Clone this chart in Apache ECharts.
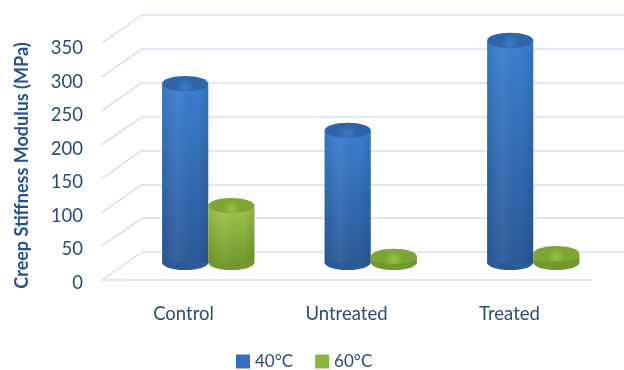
<!DOCTYPE html>
<html>
<head>
<meta charset="utf-8">
<script src="https://cdn.jsdelivr.net/npm/echarts@6/dist/echarts.min.js"></script>
<style>
html,body{margin:0;padding:0;background:#fff;}
#chart{width:624px;height:370px;}
</style>
</head>
<body>
<div id="chart"></div>
<script>
// ---- data ----
var categories = ['Control', 'Untreated', 'Treated'];
var seriesNames = ['40°C', '60°C'];
var values40 = [264, 195, 328];
var values60 = [84, 9, 13];
var yTicks = [0, 50, 100, 150, 200, 250, 300, 350];
var yMin = 0, yMax = 350, yInterval = 50;
var yTitle = 'Creep Stiffness Modulus (MPa)';

var FONT = 'Lato, "Open Sans", sans-serif';
var gridColor = '#d3e0f1';
var labelColor = '#2d4a78';

var chart = echarts.init(document.getElementById('chart'), null, {renderer: 'canvas'});

function cylinder(side, pal) {
  return function (params, api) {
    var cat = api.value(0), v = api.value(1);
    var base = api.coord([cat, 0]);
    var top = api.coord([cat, v]);
    var band = api.size([1, 0])[0];
    var w = band * 0.284;
    var rx = w / 2, ry = w * 0.165;
    var cx = base[0] + side * rx;
    var bodyGrad = new echarts.graphic.LinearGradient(0, 0, 0, 1, [
      {offset: 0, color: pal.top}, {offset: 1, color: pal.bottom}
    ]);
    var sideShade = new echarts.graphic.LinearGradient(0, 0, 1, 0, [
      {offset: 0, color: 'rgba(0,0,0,0.08)'},
      {offset: 0.35, color: 'rgba(255,255,255,0.05)'},
      {offset: 0.75, color: 'rgba(0,0,0,0.0)'},
      {offset: 1, color: 'rgba(0,0,0,0.10)'}
    ]);
    var capGrad = new echarts.graphic.RadialGradient(0.5, 0.7, 0.6, [
      {offset: 0, color: pal.capIn}, {offset: 1, color: pal.capOut}
    ]);
    return {
      type: 'group',
      children: [
        {type: 'ellipse', shape: {cx: cx, cy: base[1], rx: rx, ry: ry}, style: {fill: pal.bottom}},
        {type: 'rect', shape: {x: cx - rx, y: top[1], width: w, height: base[1] - top[1]}, style: {fill: bodyGrad}},
        {type: 'rect', shape: {x: cx - rx, y: top[1], width: w, height: base[1] - top[1]}, style: {fill: sideShade}},
        {type: 'ellipse', shape: {cx: cx, cy: top[1], rx: rx, ry: ry}, style: {fill: capGrad}}
      ]
    };
  };
}

var bluePal = {top: '#3b7fd0', bottom: '#2b5a98', capIn: '#3d7cc9', capOut: '#2e65aa'};
var greenPal = {top: '#9fc94b', bottom: '#73992e', capIn: '#97c343', capOut: '#7ca535'};

var option = {
  backgroundColor: '#ffffff',
  animation: false,
  textStyle: {fontFamily: FONT},
  grid: [
    {left: 142, right: 0, top: 15, bottom: 118},        // back wall
    {left: 102, right: 33, top: 43, bottom: 90},        // front floor edge + category labels
    {left: 127, right: 9.5, top: 25.5, bottom: 107.5},  // bars
    {left: 102, right: 33, top: 48, bottom: 87}         // value labels
  ],
  legend: {
    left: 236, top: 353, padding: 0,
    itemWidth: 14, itemHeight: 14, itemGap: 22,
    icon: 'rect',
    textStyle: {fontFamily: FONT, fontSize: 17, lineHeight: 14, color: labelColor},
    data: seriesNames
  },
  xAxis: [
    {gridIndex: 0, type: 'value', min: 0, max: 1, show: false},
    {gridIndex: 1, type: 'category', data: categories,
      axisLine: {show: true, lineStyle: {color: gridColor, width: 1.5}},
      axisTick: {show: false},
      axisLabel: {fontFamily: FONT, fontSize: 18.5, color: labelColor, margin: 25}},
    {gridIndex: 2, type: 'category', data: categories, show: false},
    {gridIndex: 3, type: 'category', data: categories, show: false}
  ],
  yAxis: [
    {gridIndex: 0, type: 'value', min: yMin, max: yMax, interval: yInterval,
      axisLine: {show: false}, axisTick: {show: false}, axisLabel: {show: false},
      splitLine: {show: true, lineStyle: {color: gridColor, width: 1.5}}},
    {gridIndex: 1, type: 'value', min: yMin, max: yMax, show: false},
    {gridIndex: 2, type: 'value', min: yMin, max: yMax, show: false},
    {gridIndex: 3, type: 'value', min: yMin, max: yMax, interval: yInterval,
      axisLine: {show: false}, axisTick: {show: false}, splitLine: {show: false},
      axisLabel: {fontFamily: FONT, fontSize: 18.5, color: labelColor, margin: 19},
      name: yTitle, nameLocation: 'middle', nameGap: 71,
      nameTextStyle: {fontFamily: FONT, fontSize: 18, fontWeight: 'bold', color: '#24528f'}}
  ],
  series: [
    {
      type: 'custom', name: 'walls', xAxisIndex: 0, yAxisIndex: 0, silent: true, clip: false, z: 1,
      data: yTicks.map(function (v) { return [0, v]; }),
      renderItem: function (params, api) {
        var p = api.coord([0, api.value(1)]);
        return {type: 'line', shape: {x1: p[0], y1: p[1], x2: p[0] - 40, y2: p[1] + 28},
          style: {stroke: gridColor, lineWidth: 1.5}};
      }
    },
    {
      type: 'custom', name: seriesNames[0], xAxisIndex: 2, yAxisIndex: 2, clip: false, z: 3,
      itemStyle: {color: '#3570c0'},
      data: values40.map(function (v, i) { return [i, v]; }),
      renderItem: cylinder(-1, bluePal)
    },
    {
      type: 'custom', name: seriesNames[1], xAxisIndex: 2, yAxisIndex: 2, clip: false, z: 3,
      itemStyle: {color: '#8ab83c'},
      data: values60.map(function (v, i) { return [i, v]; }),
      renderItem: cylinder(1, greenPal)
    }
  ]
};
chart.setOption(option);
</script>
</body>
</html>
